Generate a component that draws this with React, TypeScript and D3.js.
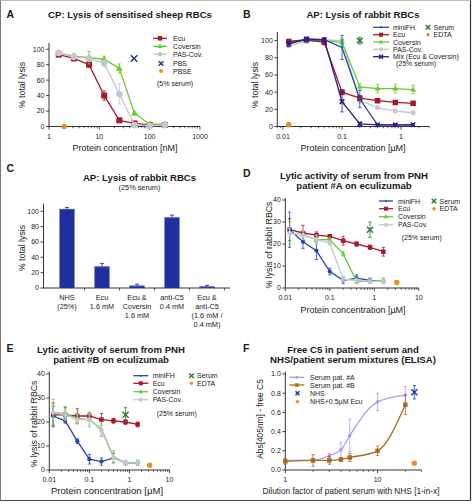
import React from "react";
import * as d3 from "d3";

const FF = "'Liberation Sans', Arial, Helvetica, sans-serif";
const AX = "#333";
const TXT = "#1a1a1a";

// colours
const C_ECU = "#a8182c";
const C_COV = "#66cc33";
const C_PAS = "#c3c7cf";
const C_MFH = "#2246b0";
const C_MIX = "#2c1c8c";
const C_ORANGE = "#e8901c";
const C_SERUM = "#2e7d3e";
const C_PBS = "#1f3aa0";
const C_BAR = "#1f2f9f";
const C_PATA = "#a79cec";
const C_PATB = "#ad6a1e";

// ---------- Panel A (nM)
const aConc = [1.5625, 3.125, 6.25, 12.5, 25, 50, 100, 200];
const aEcu = [93, 88, 80, 40, 8, 4, 2, 2];
const aEcuErr = [3, 2, 3, 6, 2, 1, 1, 1];
const aCov = [95, 91, 89, 87, 75, 17, 3, 3];
const aCovErr = [3, 3, 8, 4, 6, 2, 1, 1];
const aPas = [95, 90, 88, 82, 42, 2, 1, 2];
const aPasErr = [3, 2, 3, 5, 13, 1, 1, 1];
const aPbsX = [49];
const aPbsY = [88];
const aPbseX = [2];
const aPbseY = [0];
const aXTicks = [1, 10, 100, 1000];
const pctTicks = [0, 20, 40, 60, 80, 100];

// ---------- Panel B (µM)
const bConc = [0.0125, 0.025, 0.05, 0.1, 0.2, 0.4, 0.8, 1.6];
const bMfh = [97, 101, 101, 92, 32, 2, 2, 2];
const bMfhErr = [2, 2, 2, 14, 10, 1, 1, 1];
const bEcu = [99, 101, 98, 40, 33, 30, 28, 27];
const bEcuErr = [2, 2, 3, 3, 3, 2, 2, 2];
const bCov = [99, 100, 100, 98, 46, 44, 44, 43];
const bCovErr = [2, 2, 2, 3, 4, 5, 5, 5];
const bPas = [94, 99, 101, 100, 30, 22, 18, 16];
const bPasErr = [2, 2, 2, 3, 2, 1, 1, 1];
const bMix = [96, 102, 101, 29, 3, 2, 2, 2];
const bMixErr = [3, 2, 2, 12, 2, 1, 1, 1];
const bSerumX = [0.2];
const bSerumY = [100];
const bSerumErr = [4];
const bEdtaX = [0.0125];
const bEdtaY = [2];
const bXTicks = [0.01, 0.1, 1];

// ---------- Panel C (bars)
const cCats = [
  ["NHS", "(25%)"],
  ["Ecu", "1.6 mM"],
  ["Ecu &", "Coversin", "1.6 mM"],
  ["anti-C5", "0.4 mM"],
  ["Ecu &", "anti-C5", "(1.6 mM /", "0.4 mM)"],
];
const cVals = [103, 28, 3, 92, 2];
const cErr = [2, 4, 2, 3, 1.5];

// ---------- Panel D (patient #A)
const dConc = [0.0125, 0.025, 0.05, 0.1, 0.2, 0.4, 0.8, 1.6];
const dMfh = [26.5, 21, 17, 7.5, 3.5, 4.5, 3.5, 3];
const dMfhErr = [8, 3, 4, 1.5, 1.5, 1.5, 1, 1];
const dEcu = [26.5, 25, 24, 23.5, 21.5, 20, 18.5, 16.5];
const dEcuErr = [5, 3.5, 1.5, 0.5, 2, 1, 1, 2];
const dCov = [25, 24, 22, 22, 15.5, 3, 3, 3.5];
const dCovErr = [5, 2, 2, 1, 1, 1, 1, 1];
const dPas = [25, 24, 22, 20.5, 4, 3.5, 3, 3];
const dPasErr = [2, 2, 2, 1, 1, 1, 1, 1];
const dSerumX = [0.8];
const dSerumY = [26.5];
const dSerumErr = [3.5];
const dEdtaX = [3.2];
const dEdtaY = [2.5];

// ---------- Panel E (patient #B)
const eConc = [0.0125, 0.025, 0.05, 0.1, 0.2, 0.4, 0.8, 1.6];
const eMfh = [22.5, 20.5, 12, 4.5, 3.5, 5, 3, 3];
const eMfhErr = [4, 1, 1, 2, 1.5, 2, 1, 1];
const eEcu = [23, 23, 22.5, 22.5, 21, 20.5, 20, 19];
const eEcuErr = [5, 3, 3, 1.5, 2.5, 1, 1, 1];
const eCov = [24, 23.5, 21.5, 21, 17, 5.5, 3, 3];
const eCovErr = [5.5, 3, 2, 3, 3, 2.5, 1, 1];
const ePas = [24, 23, 21, 21, 16.5, 5, 3, 3];
const ePasErr = [3, 2, 2, 2, 2, 1.5, 1, 1];
const eSerumX = [0.8];
const eSerumY = [23];
const eSerumErr = [3];
const eEdtaX = [3.2];
const eEdtaY = [2];
const deXTicks = [0.01, 0.1, 1, 10];
const deYTicks = [0, 10, 20, 30, 40];

// ---------- Panel F (ELISA)
const fDil = [1, 2, 3, 4, 5, 10, 20];
const fPatA = [0.1, 0.1, 0.15, 0.21, 0.36, 0.71, 0.78];
const fPatAErr = [0.01, 0.02, 0.02, 0.08, 0.17, 0.09, 0.09];
const fPatB = [0.09, 0.1, 0.1, 0.11, 0.13, 0.2, 0.68];
const fPatBErr = [0.03, 0.06, 0.04, 0.02, 0.04, 0.05, 0.1];
const fNhsX = [25];
const fNhsY = [0.81];
const fNhsErr = [0.07];
const fNhsEcuX = [25];
const fNhsEcuY = [0.07];
const fXTicks = [1, 10];
const fYTicks = [0, 0.2, 0.4, 0.6, 0.8, 1.0];

type Kind = "square" | "triangle" | "circle" | "diamond" | "x";
type Series = {
  x: number[];
  y: number[];
  err?: number[];
  color: string;
  kind: Kind;
  size: number;
  lw?: number;
  line?: boolean;
  curve?: boolean;
  errColor?: string;
};

function Marker({ kind, cx, cy, size, color }: { kind: Kind; cx: number; cy: number; size: number; color: string }) {
  const h = size / 2;
  if (kind === "square") return <rect x={cx - h} y={cy - h} width={size} height={size} fill={color} />;
  if (kind === "triangle") {
    const r = size * 0.62;
    return <path d={`M${cx},${cy - r}L${cx + r * 0.95},${cy + r * 0.6}L${cx - r * 0.95},${cy + r * 0.6}Z`} fill={color} />;
  }
  if (kind === "circle") return <circle cx={cx} cy={cy} r={h} fill={color} />;
  if (kind === "diamond")
    return <path d={`M${cx},${cy - h}L${cx + h},${cy}L${cx},${cy + h}L${cx - h},${cy}Z`} fill={color} />;
  return (
    <g stroke={color} strokeWidth={1.6}>
      <line x1={cx - h} y1={cy - h} x2={cx + h} y2={cy + h} />
      <line x1={cx - h} y1={cy + h} x2={cx + h} y2={cy - h} />
    </g>
  );
}

function SeriesG({ s, x, y }: { s: Series; x: (v: number) => number; y: (v: number) => number }) {
  const line = d3
    .line<number>()
    .x((_, i) => x(s.x[i]))
    .y((d) => y(d));
  if (s.curve) line.curve(d3.curveMonotoneX);
  const ec = s.errColor || s.color;
  return (
    <g>
      {s.line !== false && <path d={line(s.y) || ""} fill="none" stroke={s.color} strokeWidth={s.lw || 1.3} />}
      {s.err &&
        s.y.map((v, i) => {
          const e = s.err![i];
          if (!e) return null;
          const cx = x(s.x[i]);
          const y1 = y(Math.max(0, v - e));
          const y2 = y(v + e);
          return (
            <g key={"e" + i} stroke={ec} strokeWidth={0.8}>
              <line x1={cx} x2={cx} y1={y1} y2={y2} />
              <line x1={cx - 1.6} x2={cx + 1.6} y1={y1} y2={y1} />
              <line x1={cx - 1.6} x2={cx + 1.6} y1={y2} y2={y2} />
            </g>
          );
        })}
      {s.y.map((v, i) => (
        <Marker key={i} kind={s.kind} cx={x(s.x[i])} cy={y(v)} size={s.size} color={s.color} />
      ))}
    </g>
  );
}

function logMinor(d0: number, d1: number) {
  const out: number[] = [];
  for (let k = Math.floor(Math.log10(d0)); k <= Math.ceil(Math.log10(d1)); k++)
    for (let m = 2; m <= 9; m++) {
      const v = m * Math.pow(10, k);
      if (v >= d0 * 0.999 && v <= d1 * 1.001) out.push(v);
    }
  return out;
}

function XLogAxis({ x, y0, major, fs, labelY }: { x: d3.ScaleLogarithmic<number, number>; y0: number; major: number[]; fs: number; labelY: number }) {
  const [d0, d1] = x.domain();
  const [r0, r1] = x.range();
  const minor = logMinor(d0, d1);
  return (
    <g>
      <line x1={r0} x2={r1} y1={y0} y2={y0} stroke={AX} strokeWidth={1} />
      {minor.map((v, i) => (
        <line key={"m" + i} x1={x(v)} x2={x(v)} y1={y0} y2={y0 + 1.8} stroke={AX} strokeWidth={0.8} />
      ))}
      {major.map((v, i) => (
        <g key={i}>
          <line x1={x(v)} x2={x(v)} y1={y0} y2={y0 + 3} stroke={AX} strokeWidth={0.9} />
          <text x={x(v)} y={labelY} textAnchor="middle" fontSize={fs} fill={TXT}>
            {String(v)}
          </text>
        </g>
      ))}
    </g>
  );
}

function YAxis({ y, x0, ticks, fs, fmt }: { y: d3.ScaleLinear<number, number>; x0: number; ticks: number[]; fs: number; fmt: (v: number) => string }) {
  const [r0, r1] = y.range();
  return (
    <g>
      <line x1={x0} x2={x0} y1={r0 + 0.5} y2={r1} stroke={AX} strokeWidth={1} />
      {ticks.map((v, i) => (
        <g key={i}>
          <line x1={x0 - 3} x2={x0} y1={y(v)} y2={y(v)} stroke={AX} strokeWidth={0.9} />
          <text x={x0 - 4.5} y={y(v) + fs * 0.35} textAnchor="end" fontSize={fs} fill={TXT}>
            {fmt(v)}
          </text>
        </g>
      ))}
    </g>
  );
}

type LegItem = { label: string; color: string; kind?: Kind; size?: number; line?: boolean };
function Legend({ items, x0, x1, tx, ys, fs, mx }: { items: LegItem[]; x0: number; x1: number; tx: number; ys: number[]; fs: number; mx?: number }) {
  return (
    <g>
      {items.map((it, i) => {
        const cy = ys[i];
        const cx = mx !== undefined && it.line === false ? mx : (x0 + x1) / 2;
        return (
          <g key={i}>
            {it.line !== false && <line x1={x0} x2={x1} y1={cy} y2={cy} stroke={it.color} strokeWidth={1.3} />}
            {it.kind && <Marker kind={it.kind} cx={cx} cy={cy} size={it.size || 4} color={it.color} />}
            <text x={tx} y={cy + fs * 0.36} fontSize={fs} fill={TXT}>
              {it.label}
            </text>
          </g>
        );
      })}
    </g>
  );
}

function Title({ lines, cx, y, fs }: { lines: string[]; cx: number; y: number; fs: number }) {
  return (
    <g>
      {lines.map((l, i) => (
        <text key={i} x={cx} y={y + i * 10} textAnchor="middle" fontSize={fs} fontWeight="bold" fill={TXT}>
          {l}
        </text>
      ))}
    </g>
  );
}

function Letter({ t, x, y }: { t: string; x: number; y: number }) {
  return (
    <text x={x} y={y} fontSize={10.5} fontWeight="bold" fill={TXT}>
      {t}
    </text>
  );
}

function YLabel({ t, x, cy, fs }: { t: string; x: number; cy: number; fs: number }) {
  return (
    <text transform={`translate(${x},${cy}) rotate(-90)`} textAnchor="middle" fontSize={fs} fill={TXT}>
      {t}
    </text>
  );
}

function XLabel({ t, cx, y, fs }: { t: string; cx: number; y: number; fs: number }) {
  return (
    <text x={cx} y={y} textAnchor="middle" fontSize={fs} fill={TXT}>
      {t}
    </text>
  );
}

const pct = (v: number) => String(v);

function PanelA() {
  const x = d3.scaleLog().domain([1, 1000]).range([49, 200]);
  const y = d3.scaleLinear().domain([0, 108]).range([126.5, 43]);
  const series: Series[] = [
    { x: aConc, y: aEcu, err: aEcuErr, color: C_ECU, kind: "square", size: 6 },
    { x: aConc, y: aCov, err: aCovErr, color: C_COV, kind: "triangle", size: 6 },
    { x: aConc, y: aPas, err: aPasErr, color: C_PAS, kind: "circle", size: 6.5 },
    { x: aPbsX, y: aPbsY, color: C_PBS, kind: "x", size: 6.5, line: false },
    { x: aPbseX, y: aPbseY, color: C_ORANGE, kind: "circle", size: 5.5, line: false },
  ];
  return (
    <g>
      <Letter t="A" x={6.5} y={17.5} />
      <Title lines={["CP: Lysis of sensitised sheep RBCs"]} cx={130} y={17.8} fs={9.6} />
      <YAxis y={y} x0={49} ticks={pctTicks} fs={7} fmt={pct} />
      <XLogAxis x={x} y0={126.5} major={aXTicks} fs={7} labelY={139} />
      {series.map((s, i) => (
        <SeriesG key={i} s={s} x={x} y={y} />
      ))}
      <YLabel t="% total lysis" x={25} cy={85} fs={8.8} />
      <XLabel t="Protein concentration [nM]" cx={125} y={150.5} fs={9} />
      <Legend
        items={[
          { label: "Ecu", color: C_ECU, kind: "square", size: 4.5 },
          { label: "Coversin", color: C_COV, kind: "triangle", size: 4.5 },
          { label: "PAS-Cov.", color: C_PAS, kind: "circle", size: 4.5 },
          { label: "PBS", color: C_PBS, kind: "x", size: 4.5, line: false },
          { label: "PBSE", color: C_ORANGE, kind: "circle", size: 4, line: false },
        ]}
        x0={153}
        x1={167}
        tx={173}
        ys={[38.3, 46.3, 54.3, 63.5, 71]}
        fs={7}
        mx={161}
      />
      <text x={157} y={85.5} fontSize={7} fill={TXT}>
        (5% serum)
      </text>
    </g>
  );
}

function PanelB() {
  const x = d3.scaleLog().domain([0.008, 3]).range([277.3, 429.2]);
  const y = d3.scaleLinear().domain([0, 110]).range([126.5, 32]);
  const series: Series[] = [
    { x: bConc, y: bPas, err: bPasErr, color: C_PAS, kind: "circle", size: 5 },
    { x: bConc, y: bCov, err: bCovErr, color: C_COV, kind: "triangle", size: 5 },
    { x: bConc, y: bEcu, err: bEcuErr, color: C_ECU, kind: "square", size: 5.5 },
    { x: bConc, y: bMfh, err: bMfhErr, color: C_MFH, kind: "diamond", size: 2.8 },
    { x: bConc, y: bMix, err: bMixErr, color: C_MIX, kind: "x", size: 4.5 },
    { x: bSerumX, y: bSerumY, err: bSerumErr, color: C_SERUM, kind: "x", size: 5.5, line: false },
    { x: bEdtaX, y: bEdtaY, color: C_ORANGE, kind: "circle", size: 5.5, line: false },
  ];
  return (
    <g>
      <Letter t="B" x={243} y={17.5} />
      <Title lines={["AP: Lysis of rabbit RBCs"]} cx={363} y={17.8} fs={9.6} />
      <YAxis y={y} x0={277.3} ticks={pctTicks} fs={7} fmt={pct} />
      <XLogAxis x={x} y0={126.5} major={bXTicks} fs={7} labelY={139} />
      {series.map((s, i) => (
        <SeriesG key={i} s={s} x={x} y={y} />
      ))}
      <YLabel t="% total lysis" x={258} cy={85} fs={8.8} />
      <XLabel t="Protein concentration [µM]" cx={353} y={150.5} fs={9} />
      <Legend
        items={[
          { label: "miniFH", color: C_MFH, kind: "diamond", size: 2.5 },
          { label: "Ecu", color: C_ECU, kind: "square", size: 4 },
          { label: "Coversin", color: C_COV, kind: "triangle", size: 4 },
          { label: "PAS-Cov.", color: C_PAS, kind: "circle", size: 4 },
          { label: "Mix (Ecu & Coversin)", color: C_MIX, kind: "x", size: 4 },
        ]}
        x0={373}
        x1={389}
        tx={393}
        ys={[27.3, 34.7, 42, 49.3, 56.7]}
        fs={7}
      />
      <text x={396} y={66} fontSize={7} fill={TXT}>
        (25% serum)
      </text>
      <Legend
        items={[
          { label: "Serum", color: C_SERUM, kind: "x", size: 4.5, line: false },
          { label: "EDTA", color: C_ORANGE, kind: "circle", size: 3.5, line: false },
        ]}
        x0={424}
        x1={432}
        tx={433.5}
        ys={[27.3, 34.7]}
        fs={7}
        mx={428}
      />
    </g>
  );
}

function PanelC() {
  const y = d3.scaleLinear().domain([0, 110]).range([288, 203.6]);
  const x = d3
    .scaleBand<number>()
    .domain(cVals.map((_, i) => i))
    .range([49.5, 224.5])
    .paddingInner(0.57)
    .paddingOuter(0.285);
  const step = x.step();
  const bounds = cVals.map((_, i) => (x(i) as number) + x.bandwidth() / 2 + step / 2);
  return (
    <g>
      <Letter t="C" x={6.5} y={172} />
      <Title lines={["AP: Lysis of rabbit RBCs"]} cx={139.5} y={181} fs={9.6} />
      <text x={139.5} y={189.5} textAnchor="middle" fontSize={7.3} fill={TXT}>
        (25% serum)
      </text>
      <YAxis y={y} x0={43.5} ticks={pctTicks} fs={7} fmt={pct} />
      <line x1={43.5} x2={230} y1={288} y2={288} stroke={AX} strokeWidth={1} />
      {bounds.map((b, i) => (
        <line key={i} x1={b} x2={b} y1={288} y2={290.5} stroke={AX} strokeWidth={0.8} />
      ))}
      {cVals.map((v, i) => {
        const bx = x(i) as number;
        const cx = bx + x.bandwidth() / 2;
        return (
          <g key={i}>
            <rect x={bx} y={y(v)} width={x.bandwidth()} height={288 - y(v)} fill={C_BAR} />
            <line x1={bx} x2={bx + x.bandwidth()} y1={y(v) + 0.4} y2={y(v) + 0.4} stroke="#5a68c8" strokeWidth={0.8} />
            <g stroke="#1a237e" strokeWidth={0.8}>
              <line x1={cx} x2={cx} y1={y(v)} y2={y(v + cErr[i])} />
              <line x1={cx - 2} x2={cx + 2} y1={y(v + cErr[i])} y2={y(v + cErr[i])} />
            </g>
            {cCats[i].map((t, j) => (
              <text key={j} x={cx} y={299.5 + j * 9} textAnchor="middle" fontSize={7.3} fill={TXT}>
                {t}
              </text>
            ))}
          </g>
        );
      })}
      <YLabel t="% total lysis" x={25} cy={248} fs={8.8} />
    </g>
  );
}

function PatientPanel({
  letter,
  lx,
  ly,
  title,
  tcx,
  ty,
  x,
  y,
  x0,
  y0,
  conc,
  mfh,
  mfhErr,
  ecu,
  ecuErr,
  cov,
  covErr,
  pas,
  pasErr,
  serumX,
  serumY,
  serumErr,
  edtaX,
  edtaY,
  xLabelY,
  tickLabelY,
  ylx,
  ylcy,
  xlcx,
  xlfs,
  leg,
}: any) {
  const series: Series[] = [
    { x: conc, y: ecu, err: ecuErr, color: C_ECU, kind: "square", size: 4.5 },
    { x: conc, y: mfh, err: mfhErr, color: C_MFH, kind: "circle", size: 4.2 },
    { x: conc, y: cov, err: covErr, color: C_COV, kind: "triangle", size: 4.2 },
    { x: conc, y: pas, err: pasErr, color: C_PAS, kind: "circle", size: 4.5 },
    { x: serumX, y: serumY, err: serumErr, color: C_SERUM, kind: "x", size: 6, line: false },
    { x: edtaX, y: edtaY, color: C_ORANGE, kind: "circle", size: 5.5, line: false },
  ];
  return (
    <g>
      <Letter t={letter} x={lx} y={ly} />
      <Title lines={title} cx={tcx} y={ty} fs={9.6} />
      <YAxis y={y} x0={x0} ticks={deYTicks} fs={7} fmt={pct} />
      <XLogAxis x={x} y0={y0} major={deXTicks} fs={7} labelY={tickLabelY} />
      {series.map((s, i) => (
        <SeriesG key={i} s={s} x={x} y={y} />
      ))}
      <YLabel t="% lysis of rabbit RBCs" x={ylx} cy={ylcy} fs={8.8} />
      <XLabel t="Protein concentration [µM]" cx={xlcx} y={xLabelY} fs={xlfs} />
      <Legend
        items={[
          { label: "miniFH", color: C_MFH, kind: "diamond", size: 2.5 },
          { label: "Ecu", color: C_ECU, kind: "square", size: 4 },
          { label: "Coversin", color: C_COV, kind: "triangle", size: 4 },
          { label: "PAS-Cov.", color: C_PAS, kind: "circle", size: 4 },
        ]}
        x0={leg.x0}
        x1={leg.x1}
        tx={leg.tx}
        ys={leg.ys}
        fs={7}
      />
      <text x={leg.sx} y={leg.sy} fontSize={7} fill={TXT}>
        (25% serum)
      </text>
      <Legend
        items={[
          { label: "Serum", color: C_SERUM, kind: "x", size: 4.5, line: false },
          { label: "EDTA", color: C_ORANGE, kind: "circle", size: 3.5, line: false },
        ]}
        x0={leg.mx - 4}
        x1={leg.mx + 4}
        tx={leg.mx + 5.5}
        ys={[leg.ys[0], leg.ys[1]]}
        fs={7}
        mx={leg.mx}
      />
    </g>
  );
}

function PanelF() {
  const x = d3.scaleLog().domain([1, 30]).range([285.3, 421.6]);
  const y = d3.scaleLinear().domain([0, 1.025]).range([470, 371.6]);
  const series: Series[] = [
    { x: fDil, y: fPatA, err: fPatAErr, color: C_PATA, kind: "circle", size: 3.6, curve: true },
    { x: fDil, y: fPatB, err: fPatBErr, color: C_PATB, kind: "square", size: 4.5, curve: true },
    { x: fNhsX, y: fNhsY, err: fNhsErr, color: C_PBS, kind: "x", size: 6, line: false },
    { x: fNhsEcuX, y: fNhsEcuY, color: C_ORANGE, kind: "circle", size: 5.5, line: false },
  ];
  return (
    <g>
      <Letter t="F" x={243} y={352.3} />
      <Title lines={["Free C5 in patient serum and", "NHS/patient serum mixtures (ELISA)"]} cx={353} y={353.3} fs={9.6} />
      <YAxis y={y} x0={285.3} ticks={fYTicks} fs={7} fmt={(v) => v.toFixed(1)} />
      <XLogAxis x={x} y0={470} major={fXTicks} fs={7} labelY={482.3} />
      {series.map((s, i) => (
        <SeriesG key={i} s={s} x={x} y={y} />
      ))}
      <YLabel t="Abs[405nm] - free C5" x={263} cy={419} fs={8.4} />
      <XLabel t="Dilution factor of patient serum with NHS [1-in-x]" cx={351} y={494} fs={8.3} />
      <Legend
        items={[
          { label: "Serum pat. #A", color: C_PATA, kind: "circle", size: 3 },
          { label: "Serum pat. #B", color: C_PATB, kind: "square", size: 3.5 },
          { label: "NHS", color: C_PBS, kind: "x", size: 4, line: false },
          { label: "NHS+0.5µM Ecu", color: C_ORANGE, kind: "circle", size: 3.5, line: false },
        ]}
        x0={289.3}
        x1={304.3}
        tx={310}
        ys={[377.3, 385, 393.3, 401.7]}
        fs={7}
        mx={297.5}
      />
    </g>
  );
}

export default function App() {
  const dx = d3.scaleLog().domain([0.01, 10]).range([285.3, 418.8]);
  const dy = d3.scaleLinear().domain([0, 41]).range([288, 197.8]);
  const ex = d3.scaleLog().domain([0.01, 10]).range([49.3, 169.5]);
  const ey = d3.scaleLinear().domain([0, 41]).range([470, 371.6]);
  return (
    <svg
      width={473}
      height={504}
      viewBox="0 0 473 504"
      style={{ position: "absolute", left: 0, top: 0, background: "#fff" }}
      fontFamily={FF}
    >
      <rect x={0} y={0} width={473} height={504} fill="#fff" />
      <PanelA />
      <PanelB />
      <PanelC />
      <PatientPanel
        letter="D"
        lx={243}
        ly={177.3}
        title={["Lytic activity of serum from PNH", "patient #A on eculizumab"]}
        tcx={354}
        ty={179}
        x={dx}
        y={dy}
        x0={285.3}
        y0={288}
        conc={dConc}
        mfh={dMfh}
        mfhErr={dMfhErr}
        ecu={dEcu}
        ecuErr={dEcuErr}
        cov={dCov}
        covErr={dCovErr}
        pas={dPas}
        pasErr={dPasErr}
        serumX={dSerumX}
        serumY={dSerumY}
        serumErr={dSerumErr}
        edtaX={dEdtaX}
        edtaY={dEdtaY}
        tickLabelY={300.3}
        xLabelY={312.5}
        ylx={272}
        ylcy={245}
        xlcx={353}
        xlfs={9}
        leg={{ x0: 379, x1: 393, tx: 398, ys: [201, 208.7, 216.7, 224.7], sx: 401.7, sy: 239.7, mx: 434 }}
      />
      <PatientPanel
        letter="E"
        lx={6.5}
        ly={352.3}
        title={["Lytic activity of serum from PNH", "patient #B on eculizumab"]}
        tcx={111}
        ty={353.3}
        x={ex}
        y={ey}
        x0={49.3}
        y0={470}
        conc={eConc}
        mfh={eMfh}
        mfhErr={eMfhErr}
        ecu={eEcu}
        ecuErr={eEcuErr}
        cov={eCov}
        covErr={eCovErr}
        pas={ePas}
        pasErr={ePasErr}
        serumX={eSerumX}
        serumY={eSerumY}
        serumErr={eSerumErr}
        edtaX={eEdtaX}
        edtaY={eEdtaY}
        tickLabelY={482.3}
        xLabelY={494}
        ylx={37}
        ylcy={424}
        xlcx={107}
        xlfs={9.6}
        leg={{ x0: 133.3, x1: 148.3, tx: 152.7, ys: [375.7, 383.3, 391.7, 399.7], sx: 156.7, sy: 415.5, mx: 191.5 }}
      />
      <PanelF />
      <line x1={0.5} y1={0.5} x2={470.5} y2={0.5} stroke="#bbb" strokeWidth={1} />
      <line x1={0.5} y1={0.5} x2={0.5} y2={500.5} stroke="#777" strokeWidth={1} />
      <line x1={470.5} y1={0.5} x2={470.5} y2={500.5} stroke="#333" strokeWidth={1.2} />
      <line x1={0.5} y1={500.5} x2={470.5} y2={500.5} stroke="#444" strokeWidth={1.2} />
    </svg>
  );
}
